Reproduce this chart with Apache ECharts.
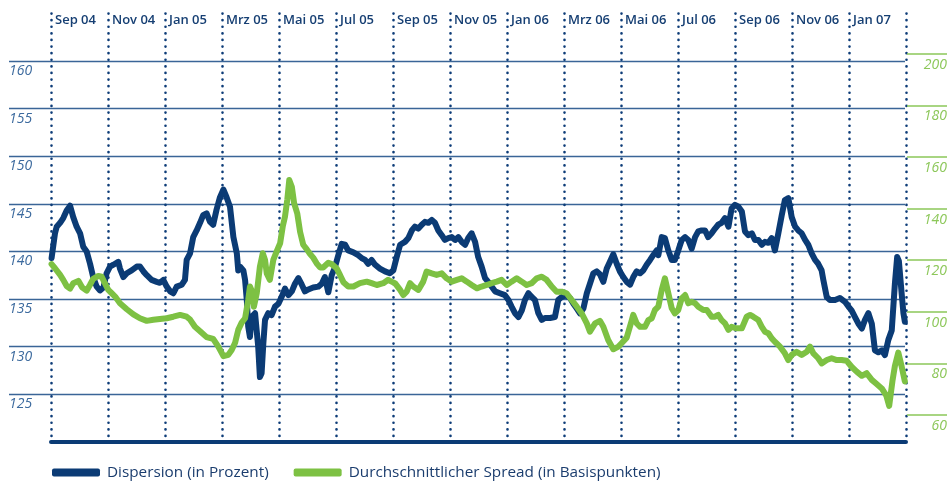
<!DOCTYPE html>
<html>
<head>
<meta charset="utf-8">
<script src="https://cdn.jsdelivr.net/npm/echarts@6/dist/echarts.min.js"></script>
<style>html,body{margin:0;padding:0;background:#fff}#c{width:951px;height:481px}</style>
</head>
<body>
<div id="c"></div>
<script>
// x values: months since start of Sep 2004
const monthLabels = ['Sep 04','Nov 04','Jan 05','Mrz 05','Mai 05','Jul 05','Sep 05','Nov 05','Jan 06','Mrz 06','Mai 06','Jul 06','Sep 06','Nov 06','Jan 07',''];
const leftTickValues = [125,130,135,140,145,150,155,160];
const rightTickValues = [60,80,100,120,140,160,180,200];
const seriesNames = ['Dispersion (in Prozent)','Durchschnittlicher Spread (in Basispunkten)'];

const dispersionX = [0.02,0.14,0.20,0.32,0.43,0.55,0.67,0.78,0.90,1.02,1.13,1.25,1.37,1.48,1.60,1.72,1.84,1.95,2.07,2.19,2.36,2.42,2.54,2.66,2.83,3.01,3.12,3.24,3.36,3.53,3.71,3.82,3.94,4.06,4.18,4.29,4.41,4.59,4.70,4.76,4.88,4.99,5.11,5.23,5.34,5.46,5.58,5.69,5.81,5.93,6.05,6.16,6.28,6.40,6.52,6.57,6.63,6.75,6.81,6.87,6.92,6.98,7.04,7.16,7.27,7.33,7.39,7.45,7.51,7.62,7.74,7.86,7.98,8.09,8.21,8.33,8.45,8.56,8.68,8.80,8.91,9.03,9.20,9.38,9.50,9.61,9.73,9.85,9.96,10.08,10.20,10.32,10.43,10.61,10.78,10.90,11.02,11.13,11.25,11.37,11.54,11.72,11.89,12.01,12.13,12.25,12.42,12.54,12.66,12.77,12.89,13.01,13.12,13.24,13.36,13.47,13.59,13.71,13.82,13.94,14.06,14.18,14.29,14.41,14.53,14.64,14.76,14.88,14.99,15.11,15.23,15.34,15.46,15.58,15.75,15.93,16.05,16.16,16.28,16.40,16.52,16.63,16.75,16.87,16.98,17.10,17.22,17.33,17.51,17.68,17.80,17.92,18.04,18.21,18.33,18.45,18.56,18.68,18.80,18.91,19.03,19.15,19.26,19.38,19.50,19.61,19.73,19.85,19.96,20.08,20.20,20.32,20.43,20.55,20.67,20.78,20.90,21.02,21.13,21.25,21.31,21.43,21.54,21.66,21.78,21.89,22.01,22.13,22.25,22.36,22.48,22.60,22.71,22.83,22.95,23.06,23.18,23.30,23.41,23.53,23.65,23.77,23.88,24.00,24.12,24.24,24.35,24.47,24.59,24.70,24.82,24.94,25.05,25.17,25.29,25.40,25.52,25.64,25.75,25.87,25.99,26.11,26.22,26.34,26.46,26.57,26.69,26.81,26.92,27.04,27.10,27.22,27.33,27.51,27.68,27.86,27.98,28.09,28.21,28.33,28.45,28.56,28.68,28.80,28.91,29.03,29.15,29.26,29.38,29.50,29.61,29.69,29.75,29.85,29.91,29.96];
const dispersionY = [139.3,141.9,142.6,143.0,143.5,144.3,144.8,143.6,142.6,141.9,140.5,140.0,138.7,137.3,136.3,135.9,136.2,137.7,138.4,138.6,138.9,138.2,137.3,137.7,138.0,138.4,138.4,137.9,137.5,137.0,136.8,136.7,137.0,136.3,135.8,135.6,136.3,136.5,137.0,139.1,139.8,141.5,142.2,143.0,143.8,144.0,143.1,142.8,144.4,145.7,146.5,145.7,144.7,141.5,139.8,138.0,138.4,138.0,137.0,134.9,132.1,131.0,133.1,133.5,130.0,126.8,127.2,130.3,132.8,133.5,133.3,134.2,134.5,135.2,136.1,135.4,135.8,136.6,137.2,136.5,135.8,136.0,136.2,136.3,136.6,137.3,135.7,137.5,138.3,139.6,140.8,140.7,140.1,139.9,139.6,139.3,139.1,138.7,139.1,138.6,138.2,137.9,137.7,138.0,139.4,140.7,141.0,141.4,142.2,142.6,142.4,142.8,143.1,143.0,143.3,143.0,142.2,141.7,141.2,141.4,141.5,141.2,141.5,141.0,140.7,141.4,141.9,141.0,139.4,138.4,137.2,136.8,136.3,135.8,135.6,135.4,134.9,134.2,133.5,133.1,133.8,134.9,135.6,135.2,134.9,133.5,132.8,133.0,133.0,133.1,134.9,135.2,135.4,135.1,134.5,134.0,133.5,134.0,135.6,136.6,137.7,137.9,137.6,136.8,138.2,138.9,139.7,138.7,137.9,137.3,136.8,136.5,137.3,137.9,137.7,138.0,138.6,139.1,139.6,140.1,139.6,141.5,141.4,140.1,139.1,139.1,140.1,141.2,141.5,141.2,140.3,141.5,142.1,142.2,142.2,141.5,141.9,142.4,142.8,143.0,143.5,142.6,144.5,144.9,144.7,144.2,142.1,141.7,141.9,141.2,141.2,140.7,141.0,140.9,141.4,140.1,141.9,143.8,145.4,145.6,143.6,142.6,142.2,141.9,141.2,140.7,139.8,139.1,138.7,138.0,137.0,135.2,134.9,134.9,135.1,134.7,134.2,133.8,133.1,132.4,131.9,132.8,133.5,132.4,129.6,129.4,129.6,129.1,130.7,131.7,136.6,139.4,139.0,135.5,133.5,132.6];

const spreadX = [0.02,0.14,0.32,0.43,0.55,0.67,0.78,0.96,1.09,1.25,1.37,1.48,1.66,1.78,1.89,2.01,2.13,2.25,2.42,2.66,2.89,3.12,3.36,3.59,3.82,4.06,4.29,4.53,4.76,4.88,5.05,5.23,5.46,5.69,5.87,6.05,6.22,6.34,6.46,6.57,6.69,6.81,6.92,6.98,7.08,7.12,7.22,7.33,7.43,7.51,7.57,7.68,7.80,7.94,8.04,8.13,8.21,8.29,8.36,8.45,8.53,8.64,8.74,8.85,8.97,9.09,9.20,9.32,9.44,9.55,9.73,9.85,10.02,10.14,10.26,10.43,10.61,10.84,11.08,11.25,11.43,11.66,11.83,11.95,12.07,12.25,12.36,12.48,12.60,12.71,12.89,13.06,13.18,13.36,13.53,13.71,13.88,14.06,14.24,14.41,14.59,14.76,14.94,15.11,15.29,15.46,15.64,15.81,15.99,16.16,16.34,16.52,16.69,16.87,17.04,17.22,17.39,17.57,17.74,17.92,18.09,18.27,18.45,18.62,18.80,18.91,19.09,19.26,19.38,19.55,19.73,19.91,20.02,20.20,20.38,20.43,20.55,20.67,20.84,20.96,21.08,21.19,21.31,21.43,21.54,21.66,21.78,21.89,22.01,22.13,22.25,22.36,22.48,22.60,22.71,22.89,23.01,23.18,23.30,23.41,23.53,23.65,23.77,23.88,24.06,24.24,24.41,24.53,24.64,24.82,24.94,25.05,25.17,25.29,25.40,25.58,25.75,25.87,25.99,26.16,26.34,26.52,26.63,26.75,26.92,27.04,27.22,27.39,27.57,27.74,27.92,28.09,28.27,28.45,28.62,28.80,28.94,29.15,29.31,29.41,29.53,29.61,29.73,29.85,29.96];
const spreadY = [118.5,116.9,114.3,112.4,110.0,109.0,111.1,112.0,109.5,108.2,110.5,112.8,113.9,113.6,111.1,108.5,107.2,105.9,103.3,101.0,99.0,97.5,96.5,96.9,97.2,97.5,98.1,98.8,98.1,97.0,94.2,92.5,90.2,89.5,86.5,82.8,83.3,85.2,88.0,93.0,95.8,97.5,104.6,109.8,107.2,102.0,107.2,117.5,122.7,120.1,114.9,112.4,120.1,124.0,126.6,133.0,136.9,143.4,151.1,148.5,142.1,138.2,131.0,126.0,124.3,122.4,121.0,118.8,117.2,117.2,119.0,118.5,116.9,114.3,111.5,109.8,109.8,111.1,111.7,111.1,110.4,111.1,112.4,111.7,111.1,108.5,106.5,107.8,111.1,109.8,108.5,111.7,115.6,114.9,114.3,114.9,113.0,111.7,112.4,113.0,111.7,110.4,109.1,109.8,110.4,111.1,111.7,112.4,110.4,111.7,113.0,111.7,110.4,111.1,113.0,113.6,112.4,109.8,107.8,107.8,107.2,104.6,102.0,99.4,95.5,92.3,95.5,96.5,94.2,89.1,85.5,86.5,87.8,90.0,96.8,98.8,95.5,94.2,94.2,96.8,97.5,100.7,102.0,108.5,113.0,107.2,101.4,99.4,100.7,105.2,106.5,103.3,103.9,103.3,102.0,100.7,100.7,98.1,98.1,98.8,96.8,95.5,93.0,94.2,93.6,93.6,98.1,98.8,98.1,96.8,94.2,92.3,91.7,89.7,88.4,86.5,83.9,81.3,83.3,84.5,83.3,84.5,86.5,83.9,82.0,80.0,81.3,82.0,81.3,81.3,81.0,78.7,76.8,75.2,76.2,73.6,72.3,70.3,67.5,63.5,73.6,79.0,84.2,78.7,73.0];

const zip = (xs, ys) => xs.map((x, i) => [x, ys[i]]);

const NAVY = '#0b3b75';
const GREEN = '#7dc143';
const GRID = '#3a6597';
const LABEL_BLUE = '#3c6a9e';
const LABEL_GREEN = '#8cc759';
const FONT = '"Open Sans", "Noto Sans", sans-serif';

const TOP = 13.5, BOTTOM = 39.3;
const RMIN = 49.65, RMAX = 215.65;

const chart = echarts.init(document.getElementById('c'), null, {renderer: 'canvas'});
chart.setOption({
  animation: false,
  backgroundColor: '#fff',
  grid: [
    {left: 9, right: 46, top: TOP, bottom: BOTTOM},
    {left: 51, right: 45, top: TOP, bottom: BOTTOM},
    {left: 907, right: 4, top: TOP, bottom: BOTTOM}
  ],
  legend: {
    left: 52, top: 465, padding: 0, itemWidth: 48, itemHeight: 8, itemGap: 25, icon: 'roundRect',
    data: seriesNames,
    textStyle: {color: '#1b3d6e', fontSize: 15.3, fontFamily: FONT, padding: [0, 0, 0, 2]}
  },
  xAxis: [
    {gridIndex: 0, type: 'value', min: 0, max: 1, show: false},
    {
      gridIndex: 1, type: 'value', min: 0, max: 30, interval: 2, position: 'top',
      axisLine: {show: false}, axisTick: {show: false},
      splitLine: {show: true, lineStyle: {color: '#0d3c78', width: 2.6, type: [0.1, 6.5], cap: 'round'}},
      axisLabel: {
        inside: true, margin: 0, align: 'left', verticalAlign: 'top', padding: [0, 0, 0, 4],
        color: '#163f73', fontSize: 13, fontWeight: 600, fontFamily: FONT,
        showMinLabel: true, showMaxLabel: true,
        formatter: v => monthLabels[Math.round(v / 2)] || ''
      }
    },
    {
      gridIndex: 1, type: 'value', min: 0, max: 30, position: 'bottom',
      axisLine: {show: true, lineStyle: {color: '#0b3b75', width: 4}},
      axisTick: {show: false}, axisLabel: {show: false}, splitLine: {show: false}
    },
    {gridIndex: 2, type: 'value', min: 0, max: 1, show: false}
  ],
  yAxis: [
    {
      gridIndex: 0, type: 'value', min: 120, max: 165, interval: 5, position: 'left',
      axisLine: {show: false}, axisTick: {show: false},
      splitLine: {show: true, showMinLine: false, showMaxLine: false, lineStyle: {color: GRID, width: 1.4}},
      axisLabel: {
        inside: true, margin: 0, align: 'left', verticalAlign: 'top', padding: [3, 0, 0, 0],
        color: LABEL_BLUE, fontSize: 14, fontStyle: 'italic', fontFamily: FONT,
        formatter: v => leftTickValues.includes(v) ? String(v) : ''
      }
    },
    {gridIndex: 1, type: 'value', min: 120, max: 165, show: false},
    {gridIndex: 1, type: 'value', min: RMIN, max: RMAX, show: false},
    {
      gridIndex: 2, type: 'value', min: RMIN, max: RMAX, position: 'left',
      axisLine: {show: false}, splitLine: {show: false},
      axisTick: {show: true, inside: true, length: 40, customValues: rightTickValues, lineStyle: {color: LABEL_GREEN, width: 1.5}},
      axisLabel: {
        inside: true, margin: 40, align: 'right', verticalAlign: 'top', padding: [4, 0, 0, 0],
        customValues: rightTickValues,
        color: LABEL_GREEN, fontSize: 14, fontStyle: 'italic', fontFamily: FONT
      }
    }
  ],
  series: [
    {
      name: seriesNames[0], type: 'line', xAxisIndex: 1, yAxisIndex: 1,
      data: zip(dispersionX, dispersionY), showSymbol: false, symbol: 'none',
      lineStyle: {color: NAVY, width: 6, join: 'round', cap: 'round'}, itemStyle: {color: NAVY}, z: 3
    },
    {
      name: seriesNames[1], type: 'line', xAxisIndex: 1, yAxisIndex: 2,
      data: zip(spreadX, spreadY), showSymbol: false, symbol: 'none',
      lineStyle: {color: GREEN, width: 6, join: 'round', cap: 'round'}, itemStyle: {color: GREEN}, z: 4
    }
  ]
});
</script>
</body>
</html>
